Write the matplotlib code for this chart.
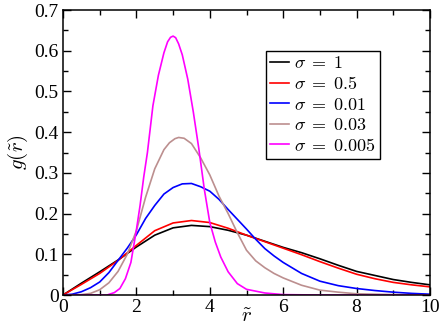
import matplotlib
matplotlib.use("Agg")
import matplotlib.pyplot as plt
from matplotlib.ticker import MultipleLocator

plt.rcParams['font.family'] = ['Liberation Serif', 'DejaVu Serif']
plt.rcParams['mathtext.fontset'] = 'cm'

# curves
x_s1 = [0, 0.5, 1, 1.5, 2, 2.5, 3, 3.5, 4, 4.5, 5, 5.5, 6, 6.5, 7, 7.5, 8, 8.5, 9, 9.5, 10]
g_s1 = [0, 0.029, 0.057, 0.086, 0.118, 0.147, 0.165, 0.171, 0.168, 0.159, 0.147,
        0.132, 0.117, 0.104, 0.089, 0.073, 0.058, 0.048, 0.038, 0.031, 0.025]

x_s05 = x_s1
g_s05 = [0, 0.026, 0.053, 0.085, 0.122, 0.158, 0.177, 0.183, 0.178, 0.164, 0.147,
         0.131, 0.115, 0.099, 0.082, 0.066, 0.051, 0.040, 0.031, 0.025, 0.020]

x_s001 = [0, 0.25, 0.5, 0.75, 1, 1.25, 1.5, 1.75, 2, 2.25, 2.5, 2.75, 3, 3.25, 3.5,
          3.75, 4, 4.25, 4.5, 4.75, 5, 5.25, 5.5, 5.75, 6, 6.5, 7, 7.5, 8, 8.5, 9, 9.5, 10]
g_s001 = [0, 0.002, 0.008, 0.018, 0.032, 0.055, 0.085, 0.115, 0.148, 0.188, 0.22,
          0.248, 0.264, 0.273, 0.274, 0.266, 0.255, 0.235, 0.21, 0.186, 0.162, 0.137,
          0.114, 0.096, 0.08, 0.053, 0.034, 0.023, 0.016, 0.011, 0.007, 0.004, 0.002]

x_s003 = [0, 0.5, 0.75, 1, 1.25, 1.5, 1.75, 2, 2.25, 2.5, 2.75, 2.9, 3.05, 3.15, 3.3, 3.5,
          3.75, 4, 4.25, 4.5, 4.75, 5, 5.25, 5.5, 5.75, 6, 6.5, 7, 7.5, 8, 9, 10]
g_s003 = [0, 0.001, 0.004, 0.013, 0.03, 0.058, 0.1, 0.158, 0.24, 0.31, 0.357, 0.374,
          0.384, 0.387, 0.385, 0.372, 0.337, 0.295, 0.243, 0.2, 0.153, 0.11, 0.084,
          0.067, 0.053, 0.042, 0.024, 0.012, 0.007, 0.003, 0.001, 0]

x_s0005 = [0, 1.2, 1.4, 1.55, 1.7, 1.85, 2.0, 2.1, 2.2, 2.3, 2.45, 2.6, 2.75, 2.85, 2.93,
           3.0, 3.07, 3.15, 3.25, 3.4, 3.55, 3.7, 3.85, 4.0, 4.15, 4.3, 4.5, 4.75, 5.0,
           5.5, 6.0, 7, 10]
g_s0005 = [0, 0, 0.006, 0.016, 0.04, 0.08, 0.16, 0.22, 0.29, 0.35, 0.465, 0.54, 0.595,
           0.622, 0.633, 0.636, 0.632, 0.617, 0.59, 0.53, 0.45, 0.36, 0.26, 0.178,
           0.13, 0.093, 0.057, 0.028, 0.014, 0.005, 0.001, 0, 0]

labels = [r'$\sigma\;=\;1$', r'$\sigma\;=\;0.5$', r'$\sigma\;=\;0.01$',
          r'$\sigma\;=\;0.03$', r'$\sigma\;=\;0.005$']
colors = ['black', 'red', 'blue', '#bc8f8f', 'magenta']

xticks = [0, 2, 4, 6, 8, 10]
xticklabels = ['0', '2', '4', '6', '8', '10']
yticks = [0, 0.1, 0.2, 0.3, 0.4, 0.5, 0.6, 0.7]
yticklabels = ['0', '0.1', '0.2', '0.3', '0.4', '0.5', '0.6', '0.7']

fig = plt.figure(figsize=(4.43, 3.3), dpi=100)
ax = fig.add_axes([0.1422, 0.106, 0.8285, 0.8636])

series = [(x_s1, g_s1), (x_s05, g_s05), (x_s001, g_s001), (x_s003, g_s003), (x_s0005, g_s0005)]
for (xs, ys), lab, c in zip(series, labels, colors):
    ax.plot(xs, ys, color=c, lw=1.2, label=lab)

ax.set_xlim(0, 10)
ax.set_ylim(0, 0.7)
ax.set_xticks(xticks)
ax.set_xticklabels(xticklabels)
ax.set_yticks(yticks)
ax.set_yticklabels(yticklabels)
ax.xaxis.set_minor_locator(MultipleLocator(1))
ax.yaxis.set_minor_locator(MultipleLocator(0.05))
ax.tick_params(which='both', direction='in', top=True, right=True, labelsize=14, width=1.0)
ax.tick_params(which='major', length=6, pad=3)
ax.tick_params(which='minor', length=3.5)
for s in ax.spines.values():
    s.set_linewidth(1.1)

ax.set_xlabel(r'$\tilde{r}$', fontsize=15, va='center')
ax.xaxis.set_label_coords(0.5, -0.08)
ax.set_ylabel(r'$g(\tilde{r})$', fontsize=15, labelpad=3)

leg = ax.legend(loc='upper left', bbox_to_anchor=(0.553, 0.857), fontsize=13,
                handlelength=1.0, handletextpad=0.3, labelspacing=0.2,
                borderpad=0.25, borderaxespad=0, fancybox=False, framealpha=1)
leg.get_frame().set_edgecolor('black')
leg.get_frame().set_linewidth(1.0)

fig.savefig('out.png', dpi=100)
